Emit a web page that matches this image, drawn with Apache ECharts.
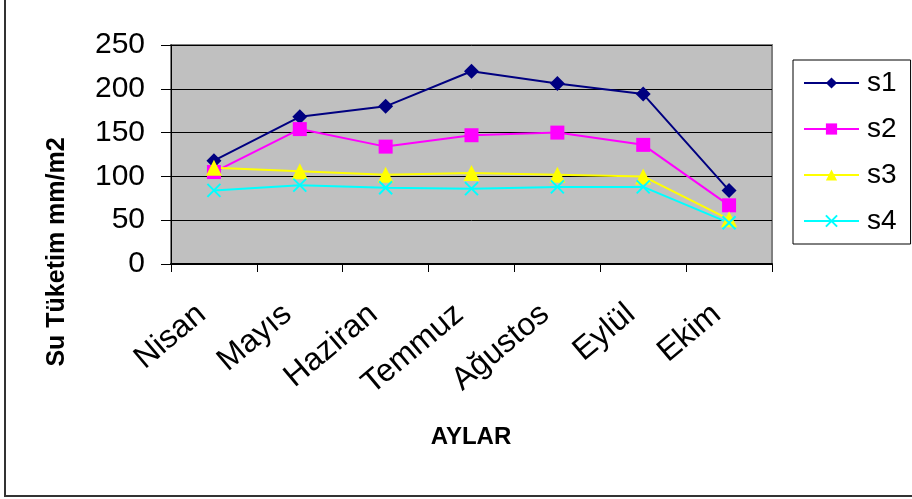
<!DOCTYPE html>
<html>
<head>
<meta charset="utf-8">
<script src="https://cdn.jsdelivr.net/npm/echarts@6/dist/echarts.min.js"></script>
<style>
  html, body { margin: 0; padding: 0; background: #fff; }
  #chart { width: 912px; height: 499px; }
</style>
</head>
<body>
<div id="chart"></div>
<script>
// Monthly water consumption (mm/m2) for four series
const months = ['Nisan', 'Mayıs', 'Haziran', 'Temmuz', 'Ağustos', 'Eylül', 'Ekim'];
const s1 = [118, 168, 180, 220, 206, 194, 84];
const s2 = [105, 154, 134, 147, 150, 136, 67];
const s3 = [110, 106, 102, 104, 102, 100, 51];
const s4 = [84, 90, 87, 86, 88, 88, 47];
const yTicks = [0, 50, 100, 150, 200, 250];

const FONT = '"Liberation Sans", Arial, sans-serif';
const crossPath = 'path://M0 0L10 10M10 0L0 10';

function lineSeries(name, data, color, symbol, size, extra) {
  return Object.assign({
    name: name,
    type: 'line',
    data: data,
    symbol: symbol,
    symbolSize: size,
    showAllSymbol: true,
    lineStyle: { color: color, width: 2 },
    itemStyle: { color: color, borderColor: color, borderWidth: 0 },
    emphasis: { disabled: true },
    animation: false
  }, extra || {});
}

const chart = echarts.init(document.getElementById('chart'), null, { renderer: 'canvas' });
chart.setOption({
  backgroundColor: '#ffffff',
  animation: false,
  textStyle: { fontFamily: FONT },
  grid: {
    left: 171, top: 45, right: 140, bottom: 235,
    show: true,
    backgroundColor: '#C0C0C0',
    borderColor: '#808080',
    borderWidth: 2
  },
  xAxis: {
    type: 'category',
    data: months,
    boundaryGap: true,
    axisLine: { lineStyle: { color: '#000', width: 2 } },
    axisTick: { show: true, length: 8, lineStyle: { color: '#000', width: 1 } },
    axisLabel: {
      interval: 0,
      rotate: 40,
      margin: 36,
      padding: [0, 16, 0, 0],
      fontSize: 32,
      color: '#000',
      fontFamily: FONT
    },
    splitLine: { show: false }
  },
  yAxis: {
    type: 'value',
    min: yTicks[0],
    max: yTicks[yTicks.length - 1],
    interval: 50,
    axisLine: { show: true, lineStyle: { color: '#000', width: 1 } },
    axisTick: { show: true, length: 10, lineStyle: { color: '#000' } },
    axisLabel: { margin: 26, fontSize: 30, color: '#000', fontFamily: FONT },
    splitLine: { show: true, lineStyle: { color: '#000', width: 1 } }
  },
  legend: {
    orient: 'vertical',
    left: 793,
    top: 60,
    padding: [9, 14, 9, 10],
    itemGap: 18,
    itemWidth: 55,
    itemHeight: 14,
    borderColor: '#000',
    borderWidth: 1,
    backgroundColor: '#fff',
    borderRadius: 0,
    textStyle: { fontSize: 28, lineHeight: 28, color: '#000', fontFamily: FONT, padding: [0, 0, 0, 3] },
    data: ['s1', 's2', 's3', 's4']
  },
  graphic: [
    {
      type: 'rect',
      shape: { x: 5, y: -5, width: 915, height: 501 },
      style: { fill: 'none', stroke: '#333', lineWidth: 2 },
      silent: true, z: 100
    },
    {
      type: 'text',
      x: 57, y: 252,
      rotation: Math.PI / 2,
      style: {
        text: 'Su Tüketim mm/m2',
        font: 'bold 25px ' + FONT,
        fill: '#000',
        align: 'center',
        verticalAlign: 'middle'
      }
    },
    {
      type: 'text',
      x: 471, y: 437,
      style: {
        text: 'AYLAR',
        font: 'bold 24px ' + FONT,
        fill: '#000',
        align: 'center',
        verticalAlign: 'middle'
      }
    }
  ],
  series: [
    lineSeries('s1', s1, '#000080', 'diamond', 15),
    lineSeries('s2', s2, '#FF00FF', 'rect', 14),
    lineSeries('s3', s3, '#FFFF00', 'triangle', 16),
    lineSeries('s4', s4, '#00FFFF', crossPath, 13, {
      itemStyle: { color: '#00FFFF', borderColor: '#00FFFF', borderWidth: 2 }
    })
  ]
});
</script>
</body>
</html>
